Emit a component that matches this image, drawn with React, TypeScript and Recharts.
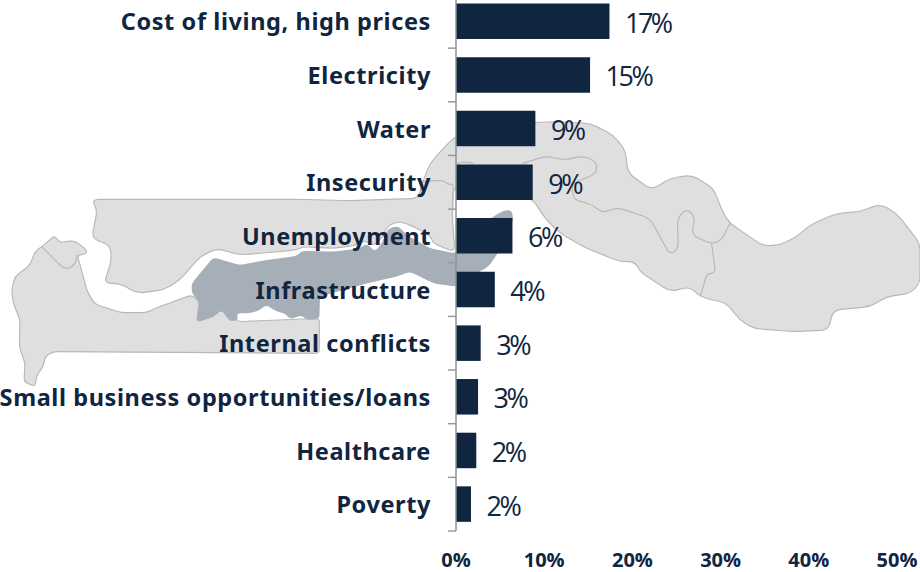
import { BarChart, Bar, XAxis, YAxis, LabelList } from 'recharts'

const categories = [
  'Cost of living, high prices',
  'Electricity',
  'Water',
  'Insecurity',
  'Unemployment',
  'Infrastructure',
  'Internal conflicts',
  'Small business opportunities/loans',
  'Healthcare',
  'Poverty',
]
const shares = [17.4, 15.2, 9.0, 8.7, 6.4, 4.4, 2.8, 2.5, 2.3, 1.7]
const xTicks = [0, 10, 20, 30, 40, 50]

const data = categories.map((name, i) => ({ name, share: shares[i] }))

const NAVY = '#0f2540'
const BAND = 53.65

// background map, traced at 3x from the top left of the picture (y offset 120)
const mapNorthEast =
  'M275,238 L900,238 L1050,242 L1255,235 L1268,185 L1290,130 L1330,85 L1365,50 L1460,15 L1660,5 L1770,10 L1840,45 L1875,90 L1885,160 L1955,210 L2010,175 L2075,165 L2140,205 L2170,280 L2190,310 L2290,378 L2340,375 L2390,350 L2430,315 L2510,280 L2580,275 L2640,252 L2690,280 L2760,370 L2760,490 L2730,520 L2660,530 L2610,560 L2500,570 L2485,630 L2375,635 L2260,625 L2220,600 L2180,550 L2100,530 L2070,500 L2010,515 L1920,455 L1905,425 L1860,425 L1760,385 L1680,340 L1635,295 L1600,240 L1510,200 L1360,200 L1357,295 L1365,397 L1300,370 L1290,345 L1220,310 L1190,305 L1160,320 L1150,350 L1120,380 L1095,360 L1075,375 L1000,385 L910,380 L890,390 L720,405 L650,385 L600,410 L540,480 L490,510 L410,520 L360,490 L312,490 L335,420 L330,375 L275,355 L292,270 Z'
const mapSouthWest =
  'M165,347 L178,368 L215,362 L232,368 L262,392 L255,403 L232,405 L262,515 L285,553 L365,578 L440,578 L465,565 L575,525 L598,545 L590,605 L640,590 L665,565 L715,605 L958,595 L958,700 L160,695 L135,710 L130,740 L110,765 L105,800 L72,785 L75,730 L58,680 L60,600 L40,550 L35,510 L45,470 L90,435 L105,395 L125,380 Z'
const mapRiver =
  'M575,490 L600,460 L640,412 L720,435 L800,420 L890,408 L905,393 L1000,395 L1080,385 L1100,370 L1125,395 L1145,370 L1165,325 L1195,318 L1220,345 L1290,385 L1365,400 L1475,293 L1510,272 L1535,270 L1540,300 L1520,350 L1490,405 L1465,440 L1430,460 L1368,500 L1300,490 L1230,455 L1190,470 L1100,490 L960,530 L958,598 L920,600 L905,585 L870,598 L855,580 L830,575 L800,555 L770,575 L740,580 L710,580 L715,600 L690,605 L665,570 L640,590 L598,605 L590,600 L598,545 L575,520 Z'
const mapBorders = [
  'M1568,130 L1640,108 L1690,120 L1750,108 L1790,125 L1790,160 L1750,178 L1715,190 L1720,240 L1770,250 L1810,280 L1850,262 L1950,295 L1980,350 L2010,405 L2035,385 L2032,295 L2060,265 L2085,290 L2075,345 L2135,372 L2165,360 L2190,310',
  'M2135,372 L2140,410 L2147,460 L2120,460 L2110,500 L2100,530',
  'M1268,185 L1330,180 L1345,195 L1360,190 L1357,295',
  'M1370,130 L1400,125 L1420,130',
  'M125,380 L195,450 L225,435 L232,405',
]

// rounds the corners of a traced outline so the map does not look polygonal
function soften(d: string, r = 22) {
  const closed = d.trim().endsWith('Z')
  const pts = (d.match(/-?\d+,-?\d+/g) || []).map((s) => s.split(',').map(Number))
  const n = pts.length
  const toward = (a: number[], b: number[]) => {
    const len = Math.hypot(b[0] - a[0], b[1] - a[1]) || 1
    const k = Math.min(r, len / 2) / len
    return [a[0] + (b[0] - a[0]) * k, a[1] + (b[1] - a[1]) * k]
  }
  let out = ''
  pts.forEach((p, i) => {
    if (!closed && (i === 0 || i === n - 1)) {
      out += `${i === 0 ? 'M' : 'L'}${p[0]},${p[1]} `
      return
    }
    const a = toward(p, pts[(i - 1 + n) % n])
    const b = toward(p, pts[(i + 1) % n])
    out += `${i === 0 ? 'M' : 'L'}${a[0]},${a[1]} Q${p[0]},${p[1]} ${b[0]},${b[1]} `
  })
  return out + (closed ? 'Z' : '')
}

function GambiaMap() {
  return (
    <svg width={920} height={572} style={{ position: 'absolute', left: 0, top: 0 }}>
      <g transform="translate(0 120) scale(0.33333)" strokeLinejoin="round">
        <path d={soften(mapNorthEast)} fill="#dfdfdf" stroke="#b8b8b8" strokeWidth={3.5} />
        <path d={soften(mapSouthWest, 12)} fill="#dfdfdf" stroke="#b8b8b8" strokeWidth={3.5} />
        <path d={soften(mapRiver, 12)} fill="#a6aeb7" />
        {mapBorders.map((d) => (
          <path key={d} d={soften(d)} fill="none" stroke="#b8b8b8" strokeWidth={3.5} />
        ))}
      </g>
    </svg>
  )
}

// category label, plus the tick mark that sits on the band boundary below it
function CategoryTick({ x, y, payload }: any) {
  return (
    <g>
      <text
        x={x}
        y={y}
        dy={9}
        textAnchor="end"
        fill={NAVY}
        fontFamily="'Noto Sans', sans-serif"
        fontWeight={700}
        fontSize={23.5}
        letterSpacing={0.6}
      >
        {payload.value}
      </text>
      <line x1={x + 17} x2={x + 25} y1={y + BAND / 2} y2={y + BAND / 2} stroke="#9a9a9a" strokeWidth={1.5} />
    </g>
  )
}

export default function App() {
  return (
    <div style={{ position: 'absolute', left: 0, top: 0, width: 920, height: 572, overflow: 'hidden', background: '#fff' }}>
      <GambiaMap />
      <div style={{ position: 'absolute', left: 0, top: -6 }}>
        <BarChart
          layout="vertical"
          width={920}
          height={578}
          data={data}
          margin={{ top: 0.5, right: 23, bottom: 0, left: 0 }}
        >
          <XAxis
            type="number"
            domain={[0, 50]}
            ticks={xTicks}
            tickFormatter={(v) => `${v}%`}
            axisLine={false}
            tickLine={false}
            height={41}
            tickMargin={16}
            interval={0}
            tick={{ fill: NAVY, fontSize: 20, fontWeight: 700, fontFamily: "'Open Sans', sans-serif" }}
          />
          <YAxis
            type="category"
            dataKey="name"
            width={456}
            interval={0}
            tickSize={0}
            tickMargin={25}
            axisLine={{ stroke: '#8d9196', strokeWidth: 1.5 }}
            tickLine={false}
            tick={<CategoryTick />}
          />
          <Bar dataKey="share" fill={NAVY} barSize={35.5} isAnimationActive={false}>
            <LabelList
              dataKey="share"
              position="right"
              offset={15.5}
              dy={2}
              formatter={(v: any) => `${Math.round(v)}%`}
              fill={NAVY}
              fontSize={27}
              letterSpacing={-2.5}
              fontFamily="'Open Sans', sans-serif"
            />
          </Bar>
        </BarChart>
      </div>
    </div>
  )
}
